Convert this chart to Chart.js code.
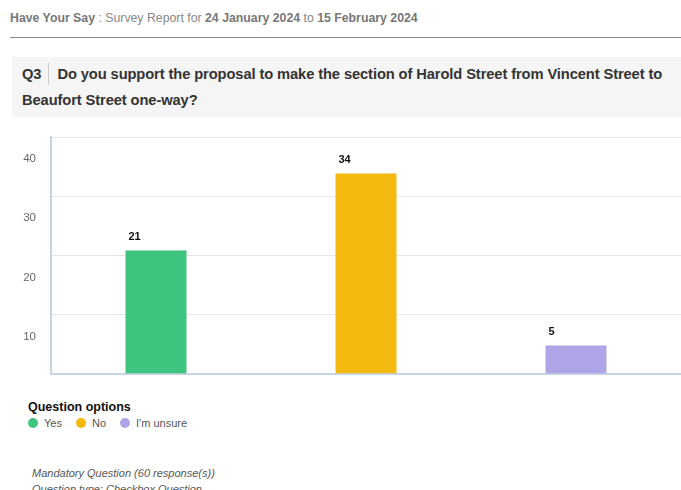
<!DOCTYPE html>
<html>
<head>
<meta charset="utf-8">
<script src="https://cdn.jsdelivr.net/npm/chart.js@4/dist/chart.umd.min.js"></script>
<style>
  body { margin: 0; width: 681px; height: 490px; overflow: hidden; background: #fff;
         font-family: "Liberation Sans", Arial, sans-serif; position: relative; }
  #cabecera { position: absolute; left: 10px; top: 11px; font-size: 12.3px; color: #888; white-space: nowrap; }
  #cabecera b { color: #777; }
  #linea { position: absolute; left: 10px; right: 0; top: 37px; border-top: 1px solid #8a8a8a; }
  #pregunta { position: absolute; left: 12px; right: 0; top: 57px; height: 60px; background: #f5f5f5; }
  #pregunta .txt { position: absolute; left: 10px; top: 4px; font-size: 14.7px; font-weight: bold;
                   color: #333; line-height: 26px; white-space: nowrap; letter-spacing: -0.1px; }
  #pregunta .num { display: inline-block; padding-right: 7px; margin-right: 8px; border-right: 1px solid #ccc;
                   line-height: 22px; }
  #grafica { position: absolute; left: 0; top: 125px; width: 681px; height: 261px; }
  #leyenda { position: absolute; left: 28px; top: 400px; }
  #leyenda .titulo { font-size: 12.5px; font-weight: bold; color: #111; }
  #leyenda .items { margin-top: 3px; font-size: 11px; color: #555; white-space: nowrap; }
  #leyenda .item { display: inline-block; margin-right: 14px; }
  #leyenda .punto { display: inline-block; width: 10px; height: 10px; border-radius: 50%;
                    vertical-align: -1px; margin-right: 6px; }
  #pie { position: absolute; left: 32px; top: 465px; font-size: 11px; font-style: italic; color: #555; line-height: 16px; }
</style>
</head>
<body>
<div id="cabecera"><b>Have Your Say</b> : Survey Report for <b>24 January 2024</b> to <b>15 February 2024</b></div>
<div id="linea"></div>
<div id="pregunta"><div class="txt"><span class="num">Q3</span>Do you support the proposal to make the section of Harold Street from Vincent Street to<br>Beaufort Street one-way?</div></div>
<div id="grafica"><canvas id="lienzo"></canvas></div>
<div id="leyenda">
  <div class="titulo">Question options</div>
  <div class="items" id="items"></div>
</div>
<div id="pie">Mandatory Question (60 response(s))<br>Question type: Checkbox Question</div>
<script>
const opciones = ['Yes', 'No', "I'm unsure"];
const respuestas = [21, 34, 5];
const colores = ['#3ec47f', '#f3b90f', '#ada5e6'];
const marcasY = [0, 10, 20, 30, 40];

// leyenda en HTML
const items = document.getElementById('items');
opciones.forEach((op, i) => {
  const el = document.createElement('span');
  el.className = 'item';
  el.innerHTML = `<span class="punto" style="background:${colores[i]}"></span>${op}`;
  items.appendChild(el);
});

// etiquetas sobre las barras
const etiquetas = {
  id: 'etiquetas',
  afterDatasetsDraw(chart) {
    const ctx = chart.ctx;
    const meta = chart.getDatasetMeta(0);
    ctx.save();
    ctx.font = 'bold 11px "Liberation Sans", Arial, sans-serif';
    ctx.fillStyle = '#111';
    ctx.textAlign = 'left';
    ctx.textBaseline = 'bottom';
    meta.data.forEach((bar, i) => {
      ctx.fillText(respuestas[i], bar.x - bar.width / 2 + 4, bar.y - 7);
    });
    ctx.restore();
  }
};

new Chart(document.getElementById('lienzo'), {
  type: 'bar',
  data: {
    labels: opciones,
    datasets: [{
      data: respuestas,
      backgroundColor: colores,
      borderColor: 'rgba(255,255,255,0.35)',
      borderWidth: 1,
      categoryPercentage: 1,
      barPercentage: 0.3
    }]
  },
  options: {
    responsive: true,
    maintainAspectRatio: false,
    animation: false,
    layout: { padding: { top: 12, bottom: 12, right: 0, left: 0 } },
    plugins: { legend: { display: false }, tooltip: { enabled: false } },
    scales: {
      x: {
        grid: { display: false },
        ticks: { display: false },
        border: { color: '#c6d4e6', width: 2 },
        afterFit: s => { s.height = 0; s.paddingLeft = 0; s.paddingRight = 0; }
      },
      y: {
        min: 0,
        max: 40,
        afterBuildTicks: s => { s.ticks = marcasY.map(v => ({ value: v })); },
        grid: { color: '#e6e6e6', lineWidth: 1, drawTicks: false },
        border: { color: '#c6d4e6', width: 2 },
        ticks: {
          padding: 15,
          labelOffset: 22,
          color: '#666',
          font: { size: 11.5, family: '"Liberation Sans", Arial, sans-serif' },
          callback: v => v === 0 ? '' : v
        },
        afterFit: s => { s.width = 51; s.paddingTop = 0; s.paddingBottom = 0; }
      }
    }
  },
  plugins: [etiquetas]
});
</script>
</body>
</html>
